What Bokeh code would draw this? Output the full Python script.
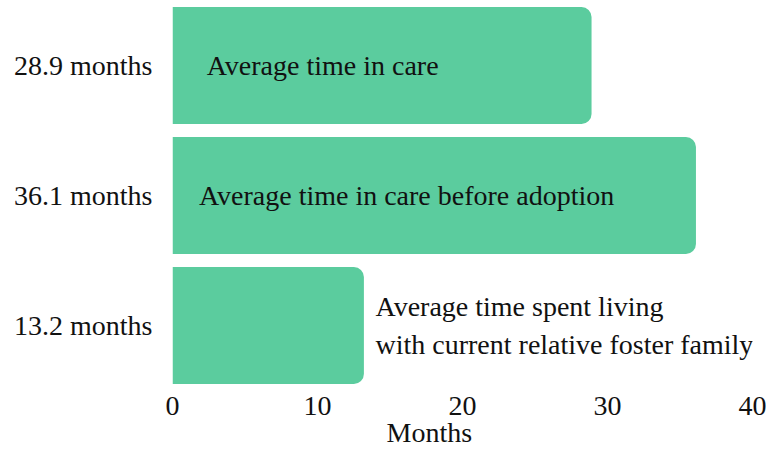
from bokeh.plotting import figure
from bokeh.models import ColumnDataSource, Range1d, FixedTicker, Title
from bokeh.core.properties import value
from bokeh.embed import file_html
from bokeh.resources import INLINE

# ---- data ----
row_labels = ["28.9 months", "36.1 months", "13.2 months"]
months = [28.9, 36.1, 13.2]
descriptions = [
    "Average time in care",
    "Average time in care before adoption",
    "Average time spent living\nwith current relative foster family",
]
x_ticks = [0, 10, 20, 30, 40]
x_title = "Months"

# ---- layout helpers (positions, not data) ----
rows = list(range(len(months)))
desc_x = [2.36, 1.82, 14.0]

FONT = "Liberation Serif"
FS = "28px"
GREEN = "#5bcc9e"
INK = "#111111"

src = ColumnDataSource(dict(y=rows, v=months))
txt = ColumnDataSource(dict(x=desc_x, y=rows, t=descriptions))

p = figure(width=766, height=448, output_backend="svg", toolbar_location=None,
           x_range=Range1d(0, 40), y_range=Range1d(2.5, -0.5),
           min_border_left=172, min_border_right=14, min_border_top=0,
           min_border_bottom=58)
p.outline_line_color = None
p.grid.visible = False
p.background_fill_color = "white"
p.border_fill_color = "white"

p.hbar(y="y", left=0, right="v", height=0.9, source=src, fill_color=GREEN,
       line_color=None, border_radius=(0, 10, 10, 0))

p.text(x="x", y="y", text="t", source=txt, text_font=value(FONT),
       text_font_size=FS, text_baseline="middle", text_align="left",
       text_color=INK, text_line_height=1.2)

# x axis
xa = p.xaxis[0]
xa.ticker = FixedTicker(ticks=x_ticks)
xa.axis_line_color = None
xa.major_tick_line_color = None
xa.minor_tick_line_color = None
xa.major_tick_out = 0
xa.major_tick_in = 0
xa.major_label_standoff = 6
xa.major_label_text_font = FONT
xa.major_label_text_font_size = FS
xa.major_label_text_color = INK

# y axis
ya = p.yaxis[0]
ya.ticker = FixedTicker(ticks=rows)
ya.major_label_overrides = {r: lab for r, lab in zip(rows, row_labels)}
ya.axis_line_color = None
ya.major_tick_line_color = None
ya.minor_tick_line_color = None
ya.major_tick_out = 0
ya.major_tick_in = 0
ya.major_label_standoff = 20
ya.major_label_text_font = FONT
ya.major_label_text_font_size = FS
ya.major_label_text_color = INK

# axis title (placed as a below-panel title so it can sit left of centre)
p.add_layout(Title(text=x_title, align="left", offset=214, standoff=-6,
                   text_font=FONT, text_font_size=FS, text_font_style="normal",
                   text_color=INK), "below")

open("out.html", "w").write(file_html(p, INLINE))
